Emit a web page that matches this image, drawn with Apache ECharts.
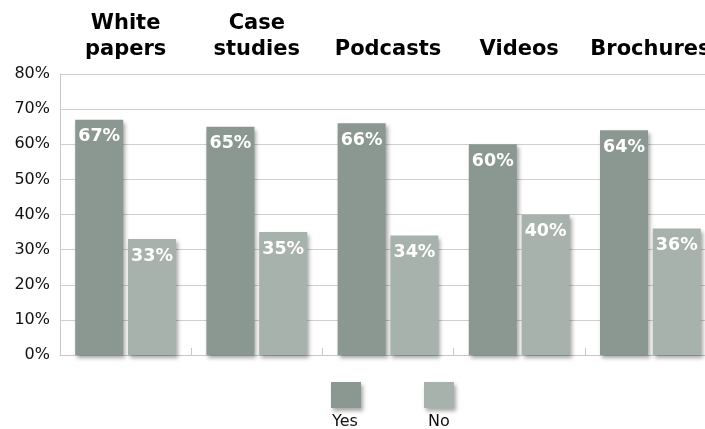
<!DOCTYPE html>
<html>
<head>
<meta charset="utf-8">
<script src="https://cdn.jsdelivr.net/npm/echarts@6/dist/echarts.min.js"></script>
<style>
  html, body { margin: 0; padding: 0; background: #fff; overflow: hidden; }
  #chart { width: 716px; height: 429px; }
</style>
</head>
<body>
<div id="chart"></div>
<script>
// Content types and the share of respondents answering Yes / No
const categories = ['White\npapers', 'Case\nstudies', 'Podcasts', 'Videos', 'Brochures'];
const yesValues = [67, 65, 66, 60, 64];
const noValues = [33, 35, 34, 40, 36];
const seriesNames = ['Yes', 'No'];
const yTicks = { min: 0, max: 80, interval: 10 };

const FONT = 'DejaVu Sans, Verdana, sans-serif';
const YES_COLOR = '#8a9891';
const NO_COLOR = '#a7b2ac';

const barShadow = {
  shadowBlur: 4,
  shadowOffsetX: 2,
  shadowOffsetY: 3,
  shadowColor: 'rgba(0,0,0,0.35)'
};

const valueLabel = {
  show: true,
  position: 'insideTop',
  distance: 8,
  formatter: '{c}%',
  color: '#fff',
  fontFamily: FONT,
  fontWeight: 'bold',
  fontSize: 17.5
};

// The plot runs a little past the right edge of the visible page
const chart = echarts.init(document.getElementById('chart'), null, { renderer: 'canvas' });

chart.setOption({
  animation: false,
  backgroundColor: '#ffffff',
  grid: { left: 60, top: 74, right: 0, bottom: 74, containLabel: false },
  legend: [
    {
      data: [seriesNames[0]], left: 326, top: 377, itemWidth: 30, itemHeight: 26,
      icon: 'rect', formatter: () => '', selectedMode: false,
      itemStyle: barShadow
    },
    {
      data: [seriesNames[1]], left: 419, top: 377, itemWidth: 30, itemHeight: 26,
      icon: 'rect', formatter: () => '', selectedMode: false,
      itemStyle: barShadow
    },
    {
      data: [seriesNames[0]], left: 322, top: 409, itemWidth: 0, itemHeight: 0,
      selectedMode: false,
      textStyle: { fontFamily: FONT, fontSize: 16, color: '#111' }
    },
    {
      data: [seriesNames[1]], left: 418, top: 409, itemWidth: 0, itemHeight: 0,
      selectedMode: false,
      textStyle: { fontFamily: FONT, fontSize: 16, color: '#111' }
    }
  ],
  xAxis: [
    {
      type: 'category',
      position: 'top',
      data: categories,
      axisLine: { show: false },
      axisTick: { show: false },
      axisLabel: {
        margin: 11,
        interval: 0,
        fontFamily: FONT,
        fontWeight: 'bold',
        fontSize: 21,
        lineHeight: 26,
        color: '#000'
      }
    },
    {
      type: 'category',
      position: 'bottom',
      data: categories,
      axisLine: { show: true, lineStyle: { color: '#c8c8c8' } },
      axisTick: { show: true, inside: true, length: 7, lineStyle: { color: '#c8c8c8' } },
      axisLabel: { show: false }
    }
  ],
  yAxis: {
    type: 'value',
    min: yTicks.min,
    max: yTicks.max,
    interval: yTicks.interval,
    axisLine: { show: true, lineStyle: { color: '#c8c8c8' } },
    axisTick: { show: false },
    splitLine: { show: true, lineStyle: { color: '#cfcfcf' } },
    axisLabel: {
      formatter: '{value}%',
      margin: 10,
      fontFamily: FONT,
      fontSize: 16,
      color: '#111'
    }
  },
  series: [
    {
      name: seriesNames[0],
      type: 'bar',
      xAxisIndex: 0,
      data: yesValues,
      barWidth: 48,
      barGap: '10%',
      itemStyle: Object.assign({ color: YES_COLOR }, barShadow),
      label: valueLabel
    },
    {
      name: seriesNames[1],
      type: 'bar',
      xAxisIndex: 0,
      data: noValues,
      barWidth: 48,
      barGap: '10%',
      itemStyle: Object.assign({ color: NO_COLOR }, barShadow),
      label: valueLabel
    }
  ]
});
</script>
</body>
</html>
